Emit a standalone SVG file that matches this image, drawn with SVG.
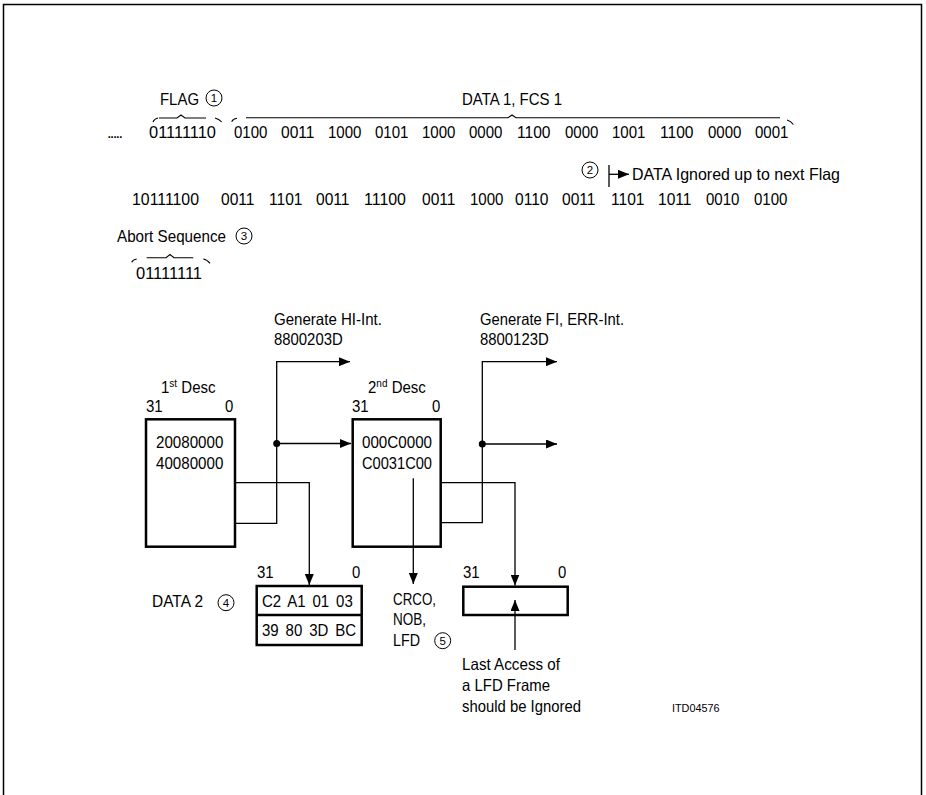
<svg xmlns="http://www.w3.org/2000/svg" width="926" height="795" viewBox="0 0 926 795">
<defs>
<marker id="ah" markerWidth="11" markerHeight="9" refX="11" refY="4.5" orient="auto" markerUnits="userSpaceOnUse"><path d="M0,0 L11,4.5 L0,9 z" fill="#000"/></marker>
</defs>
<style>
text{font-family:"Liberation Sans",Arial,sans-serif;font-size:16.5px;fill:#000}
.sm{font-size:11px}
.num{font-size:11.5px;text-anchor:middle}
.ln{fill:none;stroke:#000;stroke-width:1.3}
.box{fill:#fff;stroke:#000;stroke-width:2.5}
.br{fill:none;stroke:#000;stroke-width:1.1}
.cn{fill:#fff;stroke:#000;stroke-width:1}
</style>
<rect width="926" height="795" fill="#fff"/>
<rect x="3.5" y="4.5" width="918" height="800" fill="none" stroke="#000" stroke-width="1.5"/>

<g id="flag">
<text x="160" y="105" textLength="39" lengthAdjust="spacingAndGlyphs">FLAG</text>
<circle class="cn" cx="214" cy="98" r="8"/><text class="num" x="214" y="102">1</text>
<path class="br" d="M153,122 Q154,119 158,118 M159,118 H177 L181,115 L185,118 H206 M215,118 Q219,119 221.7,122"/>
</g>

<g id="data1">
<text x="462" y="105" textLength="100" lengthAdjust="spacingAndGlyphs">DATA 1, FCS 1</text>
<path class="br" d="M231.7,121.7 Q233,119 237,118.3 M246,117.7 H508 L512,115 L516,117.7 H780 M787,120 Q791,121 793.3,124.5"/>
</g>

<g id="bitstream1">
<text x="107" y="138" textLength="16">.....</text>
<text x="149" y="138" textLength="67" lengthAdjust="spacingAndGlyphs">01111110</text>
<text x="234" y="138" textLength="33.5" lengthAdjust="spacingAndGlyphs">0100</text>
<text x="281" y="138" textLength="33.5" lengthAdjust="spacingAndGlyphs">0011</text>
<text x="328" y="138" textLength="33.5" lengthAdjust="spacingAndGlyphs">1000</text>
<text x="375" y="138" textLength="33.5" lengthAdjust="spacingAndGlyphs">0101</text>
<text x="422" y="138" textLength="33.5" lengthAdjust="spacingAndGlyphs">1000</text>
<text x="469" y="138" textLength="33.5" lengthAdjust="spacingAndGlyphs">0000</text>
<text x="517" y="138" textLength="33.5" lengthAdjust="spacingAndGlyphs">1100</text>
<text x="565" y="138" textLength="33.5" lengthAdjust="spacingAndGlyphs">0000</text>
<text x="612" y="138" textLength="33.5" lengthAdjust="spacingAndGlyphs">1001</text>
<text x="660" y="138" textLength="33.5" lengthAdjust="spacingAndGlyphs">1100</text>
<text x="708" y="138" textLength="33.5" lengthAdjust="spacingAndGlyphs">0000</text>
<text x="755" y="138" textLength="33.5" lengthAdjust="spacingAndGlyphs">0001</text>
</g>

<g id="ignored">
<circle class="cn" cx="590" cy="170" r="8"/><text class="num" x="590" y="174">2</text>
<path class="ln" d="M609,165 V187"/>
<path class="ln" d="M609,174.3 H629" marker-end="url(#ah)"/>
<text x="632" y="180" textLength="208" lengthAdjust="spacingAndGlyphs">DATA Ignored up to next Flag</text>
</g>

<g id="bitstream2">
<text x="132" y="205" textLength="67" lengthAdjust="spacingAndGlyphs">10111100</text>
<text x="221" y="205" textLength="33.5" lengthAdjust="spacingAndGlyphs">0011</text>
<text x="269" y="205" textLength="33.5" lengthAdjust="spacingAndGlyphs">1101</text>
<text x="316" y="205" textLength="33.5" lengthAdjust="spacingAndGlyphs">0011</text>
<text x="364" y="205" textLength="42" lengthAdjust="spacingAndGlyphs">11100</text>
<text x="422" y="205" textLength="33.5" lengthAdjust="spacingAndGlyphs">0011</text>
<text x="470" y="205" textLength="33.5" lengthAdjust="spacingAndGlyphs">1000</text>
<text x="515" y="205" textLength="33.5" lengthAdjust="spacingAndGlyphs">0110</text>
<text x="562" y="205" textLength="33.5" lengthAdjust="spacingAndGlyphs">0011</text>
<text x="611" y="205" textLength="33.5" lengthAdjust="spacingAndGlyphs">1101</text>
<text x="658" y="205" textLength="33.5" lengthAdjust="spacingAndGlyphs">1011</text>
<text x="706" y="205" textLength="33.5" lengthAdjust="spacingAndGlyphs">0010</text>
<text x="754" y="205" textLength="33.5" lengthAdjust="spacingAndGlyphs">0100</text>
</g>

<g id="abort">
<text x="117" y="242" textLength="109" lengthAdjust="spacingAndGlyphs">Abort Sequence</text>
<circle class="cn" cx="244" cy="236" r="8"/><text class="num" x="244" y="240">3</text>
<path class="br" d="M131.7,262.3 Q133,259.5 136.7,259 M146.7,257.7 H166 L170,254.5 L174,257.7 H193.3 M203.3,259 Q207,259.5 210,263.3"/>
<text x="136" y="279" textLength="66" lengthAdjust="spacingAndGlyphs">01111111</text>
</g>

<g id="gen-hi">
<text x="274" y="325" textLength="108" lengthAdjust="spacingAndGlyphs">Generate HI-Int.</text>
<text x="274" y="345" textLength="68.7" lengthAdjust="spacingAndGlyphs">8800203D</text>
</g>
<g id="gen-fi">
<text x="480" y="325" textLength="144" lengthAdjust="spacingAndGlyphs">Generate FI, ERR-Int.</text>
<text x="480" y="345" textLength="68.7" lengthAdjust="spacingAndGlyphs">8800123D</text>
</g>

<g id="desc1">
<text transform="translate(161,393) scale(0.91,1)">1<tspan font-size="11" dy="-6">st</tspan><tspan dy="6"> Desc</tspan></text>
<text x="146" y="411.7" textLength="16.7" lengthAdjust="spacingAndGlyphs">31</text>
<text x="225" y="411.7" textLength="8.3" lengthAdjust="spacingAndGlyphs">0</text>
<rect class="box" x="146" y="419.3" width="89" height="127.4"/>
<text x="156" y="448.3" textLength="67.3" lengthAdjust="spacingAndGlyphs">20080000</text>
<text x="156" y="469.3" textLength="67.3" lengthAdjust="spacingAndGlyphs">40080000</text>
</g>

<g id="desc2">
<text transform="translate(368,393) scale(0.91,1)">2<tspan font-size="11" dy="-6">nd</tspan><tspan dy="6"> Desc</tspan></text>
<text x="352" y="411.7" textLength="16.7" lengthAdjust="spacingAndGlyphs">31</text>
<text x="432" y="411.7" textLength="8.3" lengthAdjust="spacingAndGlyphs">0</text>
<rect class="box" x="352.7" y="419.3" width="88" height="127.4"/>
<text x="362" y="448.3" textLength="70" lengthAdjust="spacingAndGlyphs">000C0000</text>
<text x="362" y="469.3" textLength="70" lengthAdjust="spacingAndGlyphs">C0031C00</text>
</g>

<g id="data2">
<text x="152" y="606.7" textLength="51" lengthAdjust="spacingAndGlyphs">DATA 2</text>
<circle class="cn" cx="226" cy="602.7" r="8"/><text class="num" x="226" y="606.7">4</text>
<text x="257" y="578.3" textLength="16.7" lengthAdjust="spacingAndGlyphs">31</text>
<text x="352" y="578.3" textLength="8.3" lengthAdjust="spacingAndGlyphs">0</text>
<rect class="box" x="256.7" y="586" width="105" height="59"/>
<line x1="256.7" y1="615" x2="361.7" y2="615" stroke="#000" stroke-width="2.5"/>
<text transform="translate(262,607.3) scale(0.91,1)" word-spacing="3">C2 A1 01 03</text>
<text transform="translate(262,636) scale(0.91,1)" word-spacing="3">39 80 3D BC</text>
</g>

<g id="crco">
<text x="393" y="605" textLength="43" lengthAdjust="spacingAndGlyphs">CRCO,</text>
<text x="393" y="625" textLength="33" lengthAdjust="spacingAndGlyphs">NOB,</text>
<text x="393" y="646" textLength="27" lengthAdjust="spacingAndGlyphs">LFD</text>
<circle class="cn" cx="442.7" cy="640.7" r="8"/><text class="num" x="442.7" y="644.7">5</text>
</g>

<g id="lfd">
<text x="463" y="578.3" textLength="16.7" lengthAdjust="spacingAndGlyphs">31</text>
<text x="558" y="578.3" textLength="8.3" lengthAdjust="spacingAndGlyphs">0</text>
<rect class="box" x="463.3" y="586.7" width="104.4" height="28.3"/>
<text x="462" y="670" textLength="98" lengthAdjust="spacingAndGlyphs">Last Access of</text>
<text x="462" y="690.7" textLength="88" lengthAdjust="spacingAndGlyphs">a LFD Frame</text>
<text x="462" y="711.7" textLength="119" lengthAdjust="spacingAndGlyphs">should be Ignored</text>
</g>

<g id="code">
<text class="sm" x="672" y="711.7" textLength="47.5" lengthAdjust="spacingAndGlyphs">ITD04576</text>
</g>

<g id="connectors">
<path class="ln" d="M235,523.3 H276.7 V361.7 H350" marker-end="url(#ah)"/>
<path class="ln" d="M276.7,443.5 H351" marker-end="url(#ah)"/>
<circle cx="276.7" cy="443.5" r="3.5" fill="#000"/>
<path class="ln" d="M235,482.7 H309.3 V585" marker-end="url(#ah)"/>
<path class="ln" d="M440.7,522.7 H482.3 V361.7 H557" marker-end="url(#ah)"/>
<path class="ln" d="M482.3,444 H557" marker-end="url(#ah)"/>
<circle cx="482.3" cy="444" r="3.5" fill="#000"/>
<path class="ln" d="M440.7,482.7 H515 V585.5" marker-end="url(#ah)"/>
<path class="ln" d="M413.3,478.3 V584" marker-end="url(#ah)"/>
<path class="ln" d="M515,650 V600" marker-end="url(#ah)"/>
</g>
</svg>
